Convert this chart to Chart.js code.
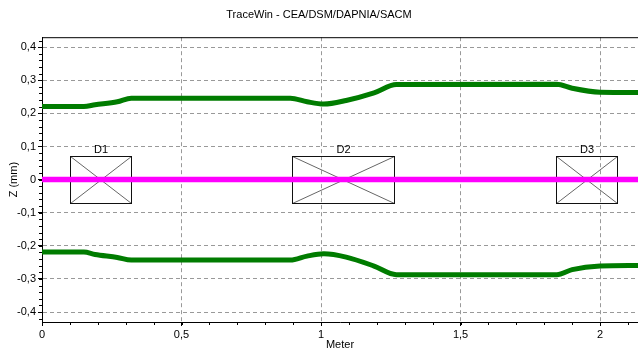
<!DOCTYPE html>
<html>
<head>
<meta charset="utf-8">
<style>
  html, body { margin: 0; padding: 0; background: #fff; }
  #wrap { width: 638px; height: 352px; }
</style>
</head>
<body>
<div id="wrap"><canvas id="envelope" width="638" height="352"></canvas></div>
<script src="https://cdn.jsdelivr.net/npm/chart.js@4/dist/chart.umd.min.js"></script>
<script>
// Beam envelope (position in m, Z in mm)
const positions = [0, 0.15, 0.19, 0.27, 0.32, 0.89, 0.95, 1.01, 1.09, 1.19, 1.27, 1.845, 1.90, 2.0, 2.14];
const upperZ = [0.221, 0.221, 0.226, 0.235, 0.246, 0.246, 0.235, 0.228, 0.239, 0.262, 0.287, 0.288, 0.276, 0.264, 0.263];
const lowerZ = [-0.219, -0.219, -0.226, -0.235, -0.243, -0.243, -0.231, -0.224, -0.234, -0.261, -0.287, -0.287, -0.272, -0.261, -0.259];
const beamAxisPositions = [0, 2.14];
const beamAxisZ = [0, 0];

// Drift elements drawn as crossed boxes
const elementNames = ['D1', 'D2', 'D3'];
const elementStart = [0.1, 0.895, 1.843];
const elementEnd = [0.32, 1.263, 2.06];
const elementHalfHeight = 0.07;

// Axis ticks
const xTicks = [0, 0.5, 1, 1.5, 2];
const yTicks = [-0.4, -0.3, -0.2, -0.1, 0, 0.1, 0.2, 0.3, 0.4];
const xMinorStep = 0.1;
const yMinorStep = 0.02;

const FONT = 'Liberation Sans, Arial, sans-serif';

// Helper Functions
function toPoints(xs, ys) {
    return xs.map((x, i) => ({ x: x, y: ys[i] }));
}

function formatTick(value) {
    return String(Math.round(value * 10) / 10).replace('.', ',');
}

function setTicks(values) {
    return (scale) => {
        scale.ticks = values.map((v) => ({ value: v }));
    };
}

// Boxes, labels, frame and minor ticks
const elementsPlugin = {
    id: 'elements',
    beforeDatasetsDraw(chart) {
        const { ctx, scales: { x, y } } = chart;
        ctx.save();
        ctx.lineWidth = 1;
        elementNames.forEach((name, i) => {
            const x1 = Math.round(x.getPixelForValue(elementStart[i])) + 0.5;
            const x2 = Math.round(x.getPixelForValue(elementEnd[i])) + 0.5;
            const y1 = Math.round(y.getPixelForValue(elementHalfHeight)) + 0.5;
            const y2 = Math.round(y.getPixelForValue(-elementHalfHeight)) + 0.5;

            ctx.strokeStyle = '#666';
            ctx.beginPath();
            ctx.moveTo(x1, y1);
            ctx.lineTo(x2, y2);
            ctx.moveTo(x1, y2);
            ctx.lineTo(x2, y1);
            ctx.stroke();

            ctx.strokeStyle = '#111';
            ctx.strokeRect(x1, y1, x2 - x1, y2 - y1);

            ctx.fillStyle = '#000';
            ctx.font = '11px ' + FONT;
            ctx.textAlign = 'center';
            ctx.textBaseline = 'bottom';
            ctx.fillText(name, (x1 + x2) / 2, y1 - 1);
        });
        ctx.restore();
    },
    afterDraw(chart) {
        const { ctx, chartArea, scales: { x, y } } = chart;
        ctx.save();
        ctx.strokeStyle = '#000';
        ctx.lineWidth = 1;
        ctx.beginPath();
        ctx.moveTo(chartArea.left, chartArea.top + 0.5);
        ctx.lineTo(chartArea.right, chartArea.top + 0.5);

        for (let i = 0; i * xMinorStep <= x.max; i++) {
            const px = Math.round(x.getPixelForValue(i * xMinorStep)) + 0.5;
            ctx.moveTo(px, chartArea.bottom);
            ctx.lineTo(px, chartArea.bottom + 3);
        }
        const yCount = Math.floor(y.max / yMinorStep);
        for (let i = -yCount; i <= yCount; i++) {
            const py = Math.round(y.getPixelForValue(i * yMinorStep)) + 0.5;
            ctx.moveTo(chartArea.left, py);
            ctx.lineTo(chartArea.left - 3, py);
        }
        ctx.stroke();
        ctx.restore();
    }
};

const ctx = document.querySelector('#envelope').getContext('2d');

const envelopeChart = new Chart(ctx, {
    type: 'line',
    data: {
        datasets: [
            {
                label: 'Z max',
                data: toPoints(positions, upperZ),
                borderColor: '#007c00',
                borderWidth: 5,
                pointRadius: 0,
                cubicInterpolationMode: 'monotone'
            },
            {
                label: 'Z min',
                data: toPoints(positions, lowerZ),
                borderColor: '#007c00',
                borderWidth: 5,
                pointRadius: 0,
                cubicInterpolationMode: 'monotone'
            },
            {
                label: 'Axis',
                data: toPoints(beamAxisPositions, beamAxisZ),
                borderColor: '#ff00ff',
                borderWidth: 5.5,
                pointRadius: 0
            }
        ]
    },
    options: {
        responsive: false,
        animation: false,
        layout: { padding: 0 },
        plugins: {
            legend: { display: false },
            tooltip: { enabled: false },
            title: {
                display: true,
                text: 'TraceWin - CEA/DSM/DAPNIA/SACM',
                color: '#000',
                font: { family: FONT, size: 11, weight: 'normal' },
                padding: { top: 8, bottom: 16 }
            }
        },
        scales: {
            x: {
                type: 'linear',
                min: 0,
                max: 2.136,
                afterBuildTicks: setTicks(xTicks),
                afterFit: (scale) => { scale.height = 30; },
                ticks: {
                    callback: formatTick,
                    color: '#000',
                    font: { family: FONT, size: 11 },
                    padding: 2,
                    maxRotation: 0
                },
                grid: {
                    color: '#999',
                    tickColor: '#000',
                    tickLength: 4
                },
                border: { display: true, color: '#000', width: 1, dash: [4, 3] },
                title: {
                    display: true,
                    text: 'Meter',
                    color: '#000',
                    font: { family: FONT, size: 11 },
                    padding: { top: 0, bottom: 0 }
                }
            },
            y: {
                min: -0.43,
                max: 0.43,
                afterBuildTicks: setTicks(yTicks),
                afterFit: (scale) => { scale.width = 42; },
                ticks: {
                    callback: formatTick,
                    color: '#000',
                    font: { family: FONT, size: 11 },
                    padding: 2
                },
                grid: {
                    color: '#999',
                    tickColor: '#000',
                    tickLength: 4
                },
                border: { display: true, color: '#000', width: 1, dash: [4, 3] },
                title: {
                    display: true,
                    text: 'Z (mm)',
                    color: '#000',
                    font: { family: FONT, size: 11 },
                    padding: { top: 7, bottom: 0 }
                }
            }
        }
    },
    plugins: [elementsPlugin]
});
</script>
</body>
</html>
